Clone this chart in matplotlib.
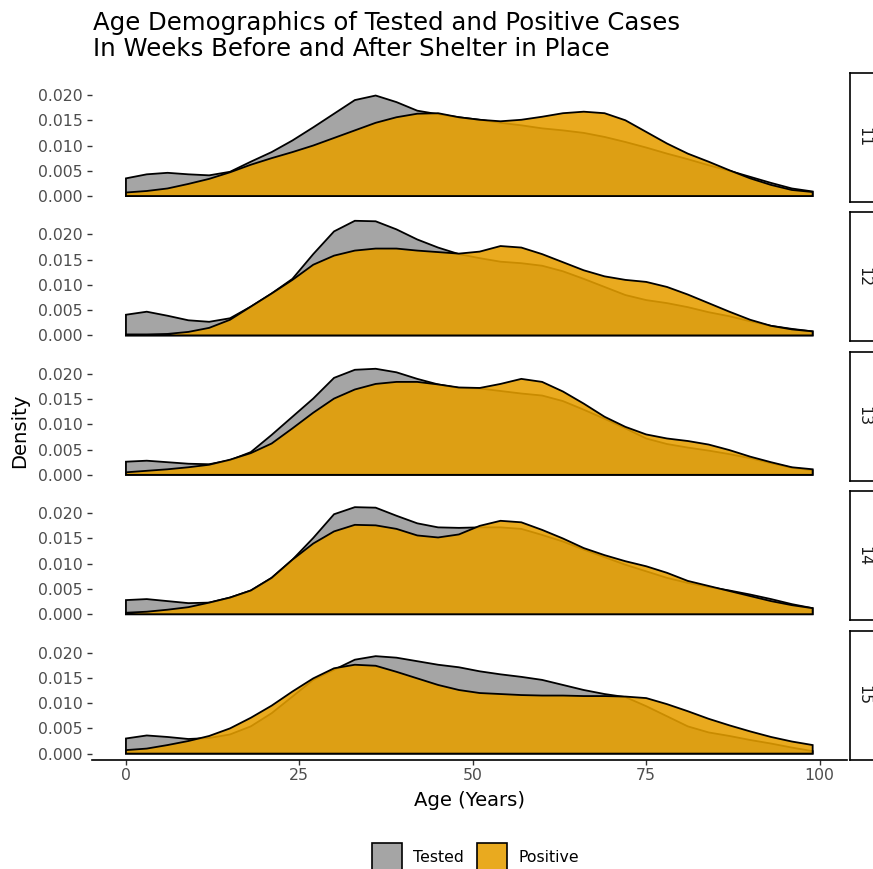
import numpy as np
import matplotlib
matplotlib.use("Agg")
import matplotlib.pyplot as plt
from matplotlib.patches import Rectangle
from matplotlib.colors import to_rgba

plt.rcParams["font.family"] = ["DejaVu Sans"]

ages = list(range(0, 100, 3))

weeks = ["11", "12", "13", "14", "15"]

tested_11 = [0.0035, 0.0043, 0.0046, 0.0043, 0.0041, 0.0048, 0.0068, 0.0087, 0.0110, 0.0136,
             0.0163, 0.0190, 0.0199, 0.0186, 0.0169, 0.0162, 0.0156, 0.0151, 0.0145, 0.0140,
             0.0134, 0.0130, 0.0125, 0.0117, 0.0107, 0.0096, 0.0084, 0.0073, 0.0061, 0.0050,
             0.0038, 0.0026, 0.0015, 0.0009]
positive_11 = [0.0007, 0.0010, 0.0015, 0.0024, 0.0034, 0.0047, 0.0062, 0.0075, 0.0087, 0.0100,
               0.0115, 0.0130, 0.0145, 0.0156, 0.0163, 0.0164, 0.0156, 0.0151, 0.0148, 0.0151,
               0.0157, 0.0164, 0.0167, 0.0164, 0.0150, 0.0127, 0.0104, 0.0084, 0.0068, 0.0051,
               0.0035, 0.0022, 0.0012, 0.0008]

tested_12 = [0.0041, 0.0047, 0.0039, 0.0030, 0.0027, 0.0034, 0.0057, 0.0083, 0.0112, 0.0161,
             0.0206, 0.0227, 0.0226, 0.0210, 0.0190, 0.0174, 0.0161, 0.0153, 0.0146, 0.0143,
             0.0138, 0.0127, 0.0112, 0.0096, 0.0080, 0.0070, 0.0064, 0.0056, 0.0046, 0.0038,
             0.0028, 0.0019, 0.0013, 0.0008]
positive_12 = [0.0002, 0.0002, 0.0003, 0.0007, 0.0015, 0.0031, 0.0057, 0.0083, 0.0110, 0.0140,
               0.0158, 0.0168, 0.0172, 0.0172, 0.0168, 0.0165, 0.0162, 0.0166, 0.0177, 0.0174,
               0.0161, 0.0145, 0.0129, 0.0117, 0.0110, 0.0106, 0.0096, 0.0081, 0.0064, 0.0047,
               0.0031, 0.0019, 0.0012, 0.0008]

tested_13 = [0.0026, 0.0028, 0.0025, 0.0022, 0.0021, 0.0029, 0.0045, 0.0079, 0.0115, 0.0151,
             0.0192, 0.0208, 0.0210, 0.0203, 0.0190, 0.0179, 0.0172, 0.0171, 0.0166, 0.0161,
             0.0157, 0.0146, 0.0129, 0.0111, 0.0092, 0.0072, 0.0061, 0.0054, 0.0048, 0.0041,
             0.0033, 0.0023, 0.0014, 0.0009]
positive_13 = [0.0005, 0.0008, 0.0011, 0.0015, 0.0020, 0.0030, 0.0043, 0.0062, 0.0092, 0.0123,
               0.0151, 0.0169, 0.0180, 0.0184, 0.0184, 0.0179, 0.0173, 0.0172, 0.0180, 0.0190,
               0.0184, 0.0165, 0.0141, 0.0115, 0.0095, 0.0080, 0.0072, 0.0067, 0.0060, 0.0049,
               0.0036, 0.0025, 0.0015, 0.0011]

tested_14 = [0.0028, 0.0030, 0.0026, 0.0022, 0.0023, 0.0033, 0.0047, 0.0072, 0.0108, 0.0151,
             0.0198, 0.0212, 0.0211, 0.0195, 0.0180, 0.0172, 0.0171, 0.0172, 0.0172, 0.0169,
             0.0157, 0.0144, 0.0128, 0.0113, 0.0098, 0.0085, 0.0072, 0.0062, 0.0054, 0.0047,
             0.0039, 0.0030, 0.0020, 0.0012]
positive_14 = [0.0003, 0.0005, 0.0009, 0.0014, 0.0023, 0.0033, 0.0047, 0.0072, 0.0108, 0.0140,
               0.0164, 0.0177, 0.0176, 0.0169, 0.0156, 0.0152, 0.0158, 0.0175, 0.0185, 0.0182,
               0.0167, 0.0150, 0.0131, 0.0117, 0.0105, 0.0095, 0.0082, 0.0066, 0.0056, 0.0046,
               0.0036, 0.0026, 0.0018, 0.0012]

tested_15 = [0.0030, 0.0036, 0.0033, 0.0029, 0.0031, 0.0038, 0.0054, 0.0080, 0.0113, 0.0146,
             0.0166, 0.0186, 0.0193, 0.0190, 0.0183, 0.0176, 0.0171, 0.0163, 0.0157, 0.0152,
             0.0146, 0.0136, 0.0126, 0.0118, 0.0112, 0.0094, 0.0074, 0.0054, 0.0042, 0.0035,
             0.0027, 0.0020, 0.0012, 0.0005]
positive_15 = [0.0007, 0.0010, 0.0017, 0.0025, 0.0035, 0.0050, 0.0071, 0.0095, 0.0123, 0.0149,
               0.0169, 0.0176, 0.0174, 0.0162, 0.0149, 0.0136, 0.0126, 0.0120, 0.0118, 0.0116,
               0.0115, 0.0115, 0.0114, 0.0114, 0.0113, 0.0110, 0.0098, 0.0084, 0.0069, 0.0056,
               0.0044, 0.0033, 0.0024, 0.0017]

tested = [tested_11, tested_12, tested_13, tested_14, tested_15]
positive = [positive_11, positive_12, positive_13, positive_14, positive_15]

y_ticks = [0.000, 0.005, 0.010, 0.015, 0.020]
x_ticks = [0, 25, 50, 75, 100]

GRAY = "#A5A5A5"
ORANGE = to_rgba("#E69F00", 0.88)
TICK_COL = "#4D4D4D"

W, H = 873, 869


def px_rect(x0, y0, x1, y1):
    # pixel box (top-left origin) -> figure fraction rect
    return [x0 / W, 1 - y1 / H, (x1 - x0) / W, (y1 - y0) / H]


def closed_density(xs, ys):
    # geom_density style outline: down to zero at both ends
    return [xs[0]] + list(xs) + [xs[-1]], [0.0] + list(ys) + [0.0]


fig = plt.figure(figsize=(W / 100, H / 100), dpi=100)

left, right = 91.6, 847.0
panel_h, step = 128.9, 139.4

for i, week in enumerate(weeks):
    top = 73 + step * i
    bottom = top + panel_h
    ax = fig.add_axes(px_rect(left, top, right, bottom))

    gx, gy = closed_density(ages, tested[i])
    ax.fill(gx, gy, facecolor=GRAY, edgecolor="black", linewidth=1.3, zorder=2)
    ox, oy = closed_density(ages, positive[i])
    ax.fill(ox, oy, facecolor=ORANGE, edgecolor="black", linewidth=1.3, zorder=3)

    ax.set_xlim(-4.95, 103.95)
    ax.set_ylim(-0.00116, 0.02436)
    ax.set_yticks(y_ticks)
    ax.set_yticklabels([f"{v:.3f}" for v in y_ticks])
    ax.tick_params(axis="y", length=3.3, width=1.0, color="#333333",
                   labelcolor=TICK_COL, labelsize=11.3, pad=3)
    for side in ["left", "top", "right"]:
        ax.spines[side].set_visible(False)

    if i == len(weeks) - 1:
        ax.set_xticks(x_ticks)
        ax.set_xticklabels([str(v) for v in x_ticks])
        ax.tick_params(axis="x", length=3.3, width=1.0, color="#333333",
                       labelcolor=TICK_COL, labelsize=11.3, pad=3)
        ax.spines["bottom"].set_linewidth(1.2)
        ax.spines["bottom"].set_position(("outward", 0))
    else:
        ax.set_xticks([])
        ax.spines["bottom"].set_visible(False)

    # facet strip on the right, partly cut off by the figure edge
    sax = fig.add_axes(px_rect(850, top, 877, bottom))
    sax.set_xticks([])
    sax.set_yticks([])
    for sp in sax.spines.values():
        sp.set_linewidth(1.2)
        sp.set_color("black")
    sax.text(0.5, 0.5, week, rotation=270, ha="center", va="center",
             fontsize=11.3, color="#1A1A1A", transform=sax.transAxes)

fig.text(93 / W, 1 - 11 / H,
         "Age Demographics of Tested and Positive Cases\nIn Weeks Before and After Shelter in Place",
         ha="left", va="top", fontsize=17.6, color="black", linespacing=1.1)

fig.text(20 / W, 1 - 431 / H, "Density", rotation=90, ha="center", va="center",
         fontsize=14.1, color="black")
fig.text(469 / W, 1 - 800 / H, "Age (Years)", ha="center", va="center",
         fontsize=14.1, color="black")

# legend at the bottom (cut off by the figure edge like the original)
legend_items = [("Tested", GRAY, 372, 413), ("Positive", ORANGE, 477, 518)]
for label, col, kx, tx in legend_items:
    fig.add_artist(Rectangle((kx / W, 1 - 874 / H), 30 / W, 31 / H,
                             transform=fig.transFigure, facecolor=col,
                             edgecolor="black", linewidth=1.2))
    fig.text(tx / W, 1 - 858 / H, label, ha="left", va="center",
             fontsize=11.3, color="black")

fig.savefig("out.png", dpi=100)
